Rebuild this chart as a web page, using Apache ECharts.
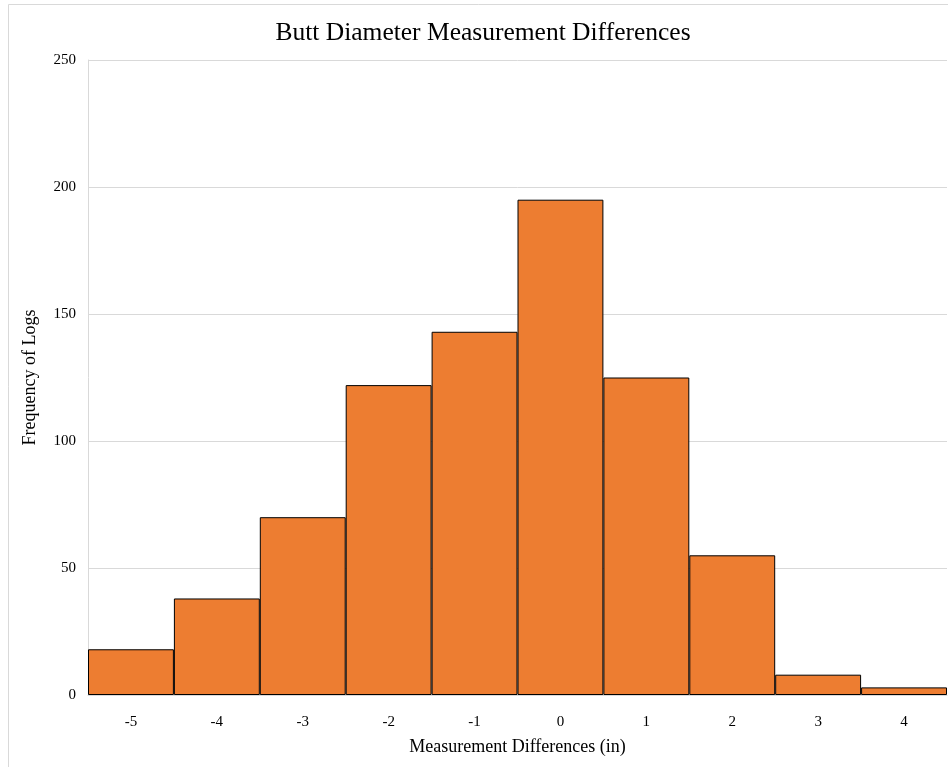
<!DOCTYPE html>
<html>
<head>
<meta charset="utf-8">
<script src="https://cdn.jsdelivr.net/npm/echarts@6/dist/echarts.min.js"></script>
<style>
  html, body { margin: 0; padding: 0; background: #fff; }
  #chart { width: 948px; height: 767px; }
</style>
</head>
<body>
<div id="chart"></div>
<script>
// Histogram bins (inches) and log counts per bin
const binLabels = ['-5', '-4', '-3', '-2', '-1', '0', '1', '2', '3', '4'];
const frequencies = [18, 38, 70, 122, 143, 195, 125, 55, 8, 3];
const yTicks = { min: 0, max: 250, interval: 50 };

const serif = "'Liberation Serif', 'Times New Roman', serif";
const chart = echarts.init(document.getElementById('chart'));

chart.setOption({
  animation: false,
  backgroundColor: '#fff',
  title: {
    text: 'Butt Diameter Measurement Differences',
    left: 478,
    top: 15,
    textAlign: 'center',
    textStyle: { fontFamily: serif, fontSize: 25.5, fontWeight: 'normal', color: '#000' }
  },
  graphic: [{
    type: 'rect',
    shape: { x: 8.5, y: 4.5, width: 980, height: 800 },
    style: { fill: 'none', stroke: '#d9d9d9', lineWidth: 1 },
    silent: true,
    z: -1
  }],
  grid: { left: 88, right: 1, top: 60, bottom: 72 },
  xAxis: {
    type: 'category',
    data: binLabels,
    name: 'Measurement Differences (in)',
    nameLocation: 'middle',
    nameGap: 43,
    nameTextStyle: { fontFamily: serif, fontSize: 18, color: '#000' },
    axisLine: { lineStyle: { color: '#d9d9d9' } },
    axisTick: { show: false },
    axisLabel: { fontFamily: serif, fontSize: 15, color: '#000', margin: 20 }
  },
  yAxis: {
    type: 'value',
    min: yTicks.min,
    max: yTicks.max,
    interval: yTicks.interval,
    name: 'Frequency of Logs',
    nameLocation: 'middle',
    nameGap: 49,
    nameTextStyle: { fontFamily: serif, fontSize: 18, color: '#000' },
    axisLine: { show: true, lineStyle: { color: '#d9d9d9' } },
    axisTick: { show: false },
    axisLabel: { fontFamily: serif, fontSize: 15, color: '#000', margin: 12 },
    splitLine: { lineStyle: { color: '#d9d9d9' } }
  },
  series: [{
    type: 'bar',
    data: frequencies,
    barCategoryGap: '0%',
    itemStyle: { color: '#ED7D31', borderColor: '#000', borderWidth: 1 }
  }]
});
</script>
</body>
</html>
